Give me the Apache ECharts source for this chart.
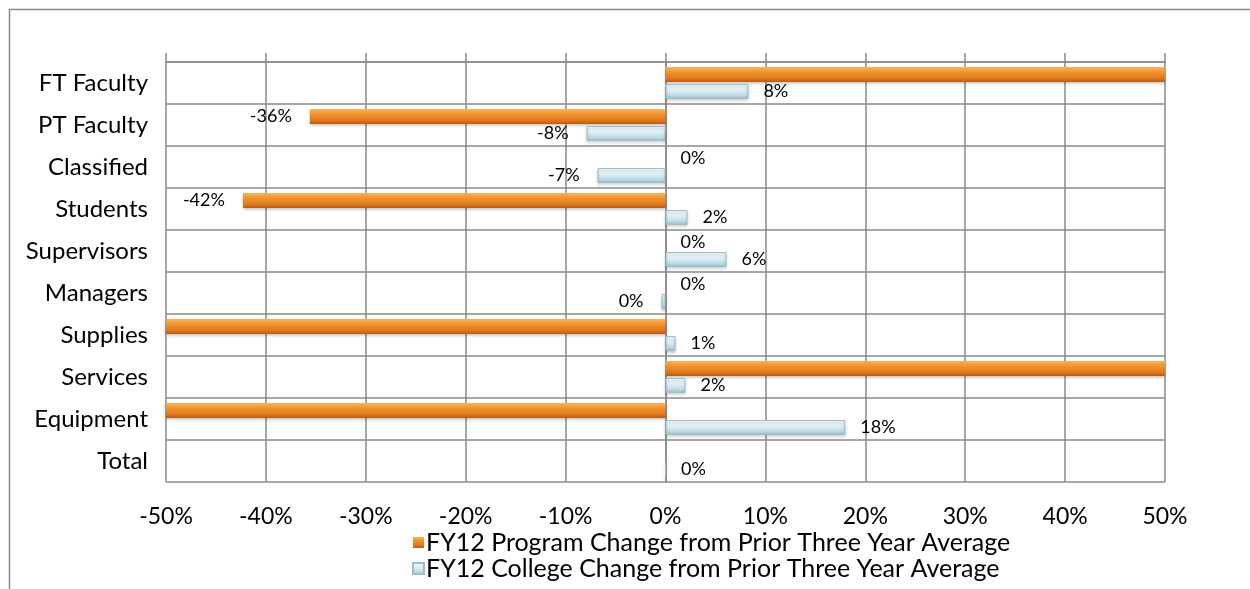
<!DOCTYPE html>
<html>
<head>
<meta charset="utf-8">
<script src="https://cdn.jsdelivr.net/npm/echarts@6/dist/echarts.min.js"></script>
<style>
html,body{margin:0;padding:0;background:#fff;}
#chart{width:1250px;height:589px;}
</style>
</head>
<body>
<div id="chart"></div>
<script>
const categories = ['FT Faculty','PT Faculty','Classified','Students','Supervisors','Managers','Supplies','Services','Equipment','Total'];
// values in percent; bars beyond ±50% are cut off by the axis in the reference
const programChange = [75, -35.6, 0, -42.3, 0, 0, -60, 80, -100, null];
const collegeChange = [8.3, -7.9, -6.8, 2.2, 6.1, -0.4, 1.0, 2.0, 18.0, 0];
const seriesNames = ['FY12 Program Change from Prior Three Year Average','FY12 College Change from Prior Three Year Average'];
const axisMin = -50, axisMax = 50, axisStep = 10;

const FONT = 'Lato';
const gridColor = '#8a8a8a';

function toItems(arr){
  return arr.map(v => {
    if (v === null) return {value: null, label: {show: false}};
    return {
      value: v,
      label: {
        show: v >= axisMin && v <= axisMax,
        position: v < 0 ? 'left' : 'right',
        distance: v < 0 ? 18 : 15
      }
    };
  });
}

const orangeGrad = new echarts.graphic.LinearGradient(0,0,0,1,[
  {offset:0, color:'#f9b35a'},
  {offset:0.35, color:'#f0922e'},
  {offset:0.75, color:'#e07a1c'},
  {offset:1, color:'#b85a12'}
]);
const blueGrad = new echarts.graphic.LinearGradient(0,0,0,1,[
  {offset:0, color:'#f4fafc'},
  {offset:0.45, color:'#dcedf3'},
  {offset:0.8, color:'#b9d8e2'},
  {offset:1, color:'#8fb6c2'}
]);

const chart = echarts.init(document.getElementById('chart'), null, {renderer:'canvas'});
const labelStyle = {color:'#000', fontFamily: FONT, fontSize: 18, formatter: p => Math.round(p.value) + '%'};

chart.setOption({
  animation: false,
  backgroundColor: '#fff',
  graphic: [{
    type: 'rect', left: 7, top: 7, silent: true,
    shape: {width: 1400, height: 800},
    style: {fill: 'none', stroke: '#8a8a8a', lineWidth: 1.5}
  }],
  grid: {left: 166, right: 85, top: 62, bottom: 107, containLabel: false},
  legend: {
    orient: 'vertical', left: 407, top: 525, itemGap: 1,
    itemWidth: 11, itemHeight: 11, icon: 'rect',
    textStyle: {fontFamily: FONT, fontSize: 25, color: '#000', padding: [0,0,0,-3]},
    data: seriesNames
  },
  xAxis: [{
    type: 'value', position: 'top', min: axisMin, max: axisMax, interval: axisStep,
    axisLine: {show: true, lineStyle: {color: gridColor, width: 1.5}},
    axisTick: {show: true, length: 9, lineStyle: {color: gridColor, width: 1.5}},
    axisLabel: {show: false},
    splitLine: {show: true, lineStyle: {color: gridColor, width: 1.5}}
  },{
    type: 'value', position: 'bottom', min: axisMin, max: axisMax, interval: axisStep,
    axisLine: {show: false}, axisTick: {show: false}, splitLine: {show: false},
    axisLabel: {show: true, margin: 23, color: '#000', fontFamily: FONT, fontSize: 23, formatter: '{value}%'}
  }],
  yAxis: {
    type: 'category', inverse: true, data: categories,
    axisLine: {show: true, lineStyle: {color: gridColor, width: 1.5}},
    axisTick: {show: false},
    splitLine: {show: true, lineStyle: {color: gridColor, width: 1.5}},
    axisLabel: {margin: 18, color: '#000', fontFamily: FONT, fontSize: 24}
  },
  series: [{
    name: seriesNames[0], type: 'bar', xAxisIndex: 0, barWidth: 15, barGap: '13%', clip: true,
    data: toItems(programChange),
    itemStyle: {color: orangeGrad, shadowColor: 'rgba(0,0,0,0.25)', shadowBlur: 3, shadowOffsetY: 2},
    label: labelStyle
  },{
    name: seriesNames[1], type: 'bar', xAxisIndex: 0, barWidth: 15, clip: true,
    data: toItems(collegeChange),
    itemStyle: {color: blueGrad, borderColor: '#9dbfca', borderWidth: 1, shadowColor: 'rgba(0,0,0,0.2)', shadowBlur: 3, shadowOffsetY: 2},
    label: labelStyle
  }]
});
</script>
</body>
</html>
